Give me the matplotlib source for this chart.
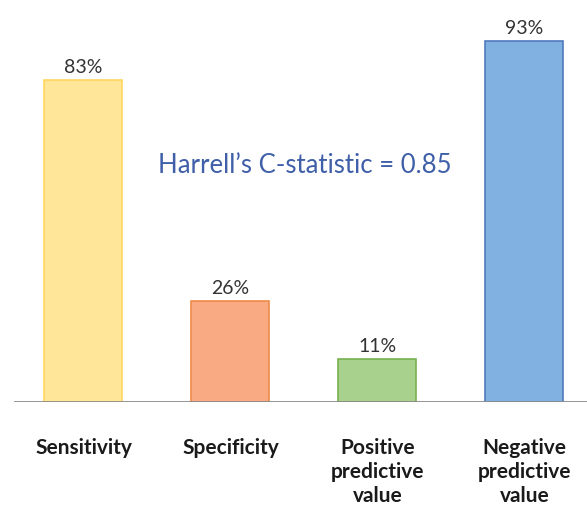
import matplotlib
matplotlib.use("Agg")
import matplotlib.pyplot as plt

categories = ["Sensitivity", "Specificity", "Positive\npredictive\nvalue",
              "Negative\npredictive\nvalue"]
values = [83, 26, 11, 93]
fill_colors = ["#FFE699", "#F9AA82", "#A9D18E", "#80B1E0"]
edge_colors = ["#FFD75E", "#EE8A4A", "#78B050", "#5079BC"]
annotation = "Harrell\u2019s C-statistic = 0.85"

plt.rcParams["font.family"] = ["Lato", "DejaVu Sans"]

W, H = 587, 506
fig = plt.figure(figsize=(W / 100, H / 100), dpi=100)
base_px = 403
px_per_pct = 3.88
spacing = 147
first_center = 83.5
ax = fig.add_axes([0, (H - base_px) / H, 1, base_px / H])
ax.set_xlim(-first_center / spacing, (W - first_center) / spacing)
ax.set_ylim(0, base_px / px_per_pct)
ax.axis("off")

x = range(len(values))
ax.bar(x, values, width=78 / spacing, color=fill_colors,
       edgecolor=edge_colors, linewidth=1.2, zorder=2)
for xi, v in zip(x, values):
    ax.text(xi, v + 1.3, f"{v}%", ha="center", va="bottom",
            fontsize=14, color="#333333")

ax.axhline(0, xmin=15 / W, xmax=1, color="#8c8c8c", linewidth=2, zorder=3)

ax.text((305 - first_center) / spacing, (base_px - 166) / px_per_pct,
        annotation, ha="center", va="center", fontsize=18.5, color="#3F5FA8")

for xi, lab in zip(x, categories):
    fig.text((first_center + xi * spacing) / W, 1 - 438 / H, lab,
             ha="center", va="top", fontsize=15, fontweight="bold",
             color="#1a1a1a", linespacing=1.25)

fig.savefig("out.png", dpi=100, facecolor="white")
